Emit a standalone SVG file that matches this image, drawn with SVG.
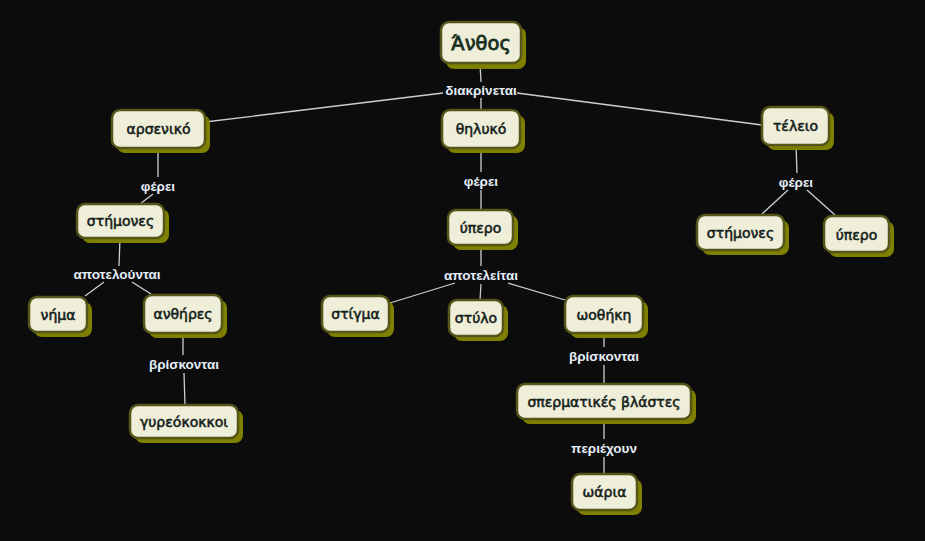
<svg xmlns="http://www.w3.org/2000/svg" width="925" height="541" viewBox="0 0 925 541">
<style>
.sh{fill:#7f7f00}
.bx{fill:#efeed8;stroke:#55551a;stroke-width:2.5}
.t{font-family:"DejaVu Sans",Verdana,sans-serif;font-size:14px;fill:#13201a;stroke:#13201a;stroke-width:0.55;text-anchor:middle;dominant-baseline:central}
.big{font-size:19.5px;stroke-width:0.8;fill:#15301c;stroke:#15301c}
.lb{font-family:"Liberation Sans",Arial,sans-serif;font-size:13.5px;font-weight:bold;fill:#e4edf8;text-anchor:middle;dominant-baseline:central}
.c line{stroke:#c9d0d6;stroke-width:1.3}
</style>
<rect width="925" height="541" fill="#0c0c0c"/>
<g class="c" id="connectors">
<line x1="480" y1="63" x2="481" y2="82"/>
<line x1="481" y1="98" x2="481" y2="110"/>
<line x1="443" y1="93" x2="205" y2="122"/>
<line x1="517" y1="93" x2="762" y2="125"/>
<line x1="158" y1="148" x2="158" y2="177"/>
<line x1="153" y1="194" x2="140" y2="204"/>
<line x1="120" y1="238" x2="119" y2="266"/>
<line x1="104" y1="282" x2="85" y2="296"/>
<line x1="132" y1="282" x2="151" y2="294"/>
<line x1="183" y1="333" x2="183" y2="355"/>
<line x1="184" y1="373" x2="185" y2="405"/>
<line x1="481" y1="148" x2="481" y2="172"/>
<line x1="481" y1="190" x2="481" y2="210"/>
<line x1="481" y1="245" x2="481" y2="266"/>
<line x1="481" y1="284" x2="480" y2="300"/>
<line x1="455" y1="283" x2="390" y2="303"/>
<line x1="508" y1="283" x2="565" y2="300"/>
<line x1="604" y1="333" x2="604" y2="347"/>
<line x1="604" y1="365" x2="604" y2="384"/>
<line x1="604" y1="419" x2="604" y2="439"/>
<line x1="604" y1="457" x2="604" y2="474"/>
<line x1="796" y1="145" x2="797" y2="173"/>
<line x1="788" y1="190" x2="762" y2="214"/>
<line x1="807" y1="190" x2="835" y2="215"/>
<text class="lb" x="481" y="90">διακρίνεται</text>
<text class="lb" x="158" y="186">φέρει</text>
<text class="lb" x="117" y="274">αποτελούνται</text>
<text class="lb" x="184" y="364">βρίσκονται</text>
<text class="lb" x="481" y="181">φέρει</text>
<text class="lb" x="481" y="275">αποτελείται</text>
<text class="lb" x="604" y="356">βρίσκονται</text>
<text class="lb" x="604" y="448">περιέχουν</text>
<text class="lb" x="796" y="182">φέρει</text>
</g>
<g id="n-anthos"><rect class="sh" x="446" y="27" width="80" height="42" rx="8"/><rect class="bx" x="441" y="22" width="80" height="41" rx="8"/><text class="t big" x="481" y="43">Άνθος</text></g>
<g id="n-arseniko"><rect class="sh" x="117" y="115" width="93" height="38" rx="8"/><rect class="bx" x="112" y="110" width="93" height="38" rx="8"/><text class="t" x="158.5" y="129">αρσενικό</text></g>
<g id="n-thyliko"><rect class="sh" x="447" y="115" width="78" height="38" rx="8"/><rect class="bx" x="442" y="110" width="78" height="38" rx="8"/><text class="t" x="481" y="129">θηλυκό</text></g>
<g id="n-teleio"><rect class="sh" x="767" y="112" width="67" height="38" rx="8"/><rect class="bx" x="762" y="107" width="67" height="38" rx="8"/><text class="t" x="795.5" y="126">τέλειο</text></g>
<g id="n-stimones1"><rect class="sh" x="82" y="209" width="87" height="34" rx="8"/><rect class="bx" x="77" y="204" width="87" height="34" rx="8"/><text class="t" x="120.5" y="221">στήμονες</text></g>
<g id="n-ypero1"><rect class="sh" x="453" y="215" width="65" height="35" rx="8"/><rect class="bx" x="448" y="210" width="65" height="35" rx="8"/><text class="t" x="480.5" y="228">ύπερο</text></g>
<g id="n-stimones2"><rect class="sh" x="702" y="220" width="87" height="35" rx="8"/><rect class="bx" x="697" y="215" width="87" height="35" rx="8"/><text class="t" x="740.5" y="233">στήμονες</text></g>
<g id="n-ypero2"><rect class="sh" x="829" y="221" width="65" height="36" rx="8"/><rect class="bx" x="824" y="216" width="65" height="36" rx="8"/><text class="t" x="856.5" y="235">ύπερο</text></g>
<g id="n-nima"><rect class="sh" x="34" y="302" width="58" height="35" rx="8"/><rect class="bx" x="29" y="297" width="58" height="35" rx="8"/><text class="t" x="58" y="315">νήμα</text></g>
<g id="n-anthires"><rect class="sh" x="149" y="300" width="78" height="38" rx="8"/><rect class="bx" x="144" y="295" width="78" height="38" rx="8"/><text class="t" x="183" y="314">ανθήρες</text></g>
<g id="n-gyreokokkoi"><rect class="sh" x="135" y="410" width="108" height="33" rx="8"/><rect class="bx" x="130" y="405" width="108" height="33" rx="8"/><text class="t" x="184" y="422">γυρεόκοκκοι</text></g>
<g id="n-stigma"><rect class="sh" x="327" y="301" width="67" height="36" rx="8"/><rect class="bx" x="322" y="296" width="67" height="36" rx="8"/><text class="t" x="355.5" y="314">στίγμα</text></g>
<g id="n-stylo"><rect class="sh" x="454" y="305" width="54" height="36" rx="8"/><rect class="bx" x="449" y="300" width="54" height="36" rx="8"/><text class="t" x="476" y="318">στύλο</text></g>
<g id="n-oothiki"><rect class="sh" x="570" y="301" width="78" height="37" rx="8"/><rect class="bx" x="565" y="296" width="78" height="37" rx="8"/><text class="t" x="604" y="314.5">ωοθήκη</text></g>
<g id="n-spermatikes"><rect class="sh" x="522" y="389" width="174" height="35" rx="8"/><rect class="bx" x="517" y="384" width="174" height="35" rx="8"/><text class="t" x="604" y="402">σπερματικές βλάστες</text></g>
<g id="n-oaria"><rect class="sh" x="577" y="479" width="65" height="36" rx="8"/><rect class="bx" x="572" y="474" width="65" height="36" rx="8"/><text class="t" x="604.5" y="492">ωάρια</text></g>
</svg>
